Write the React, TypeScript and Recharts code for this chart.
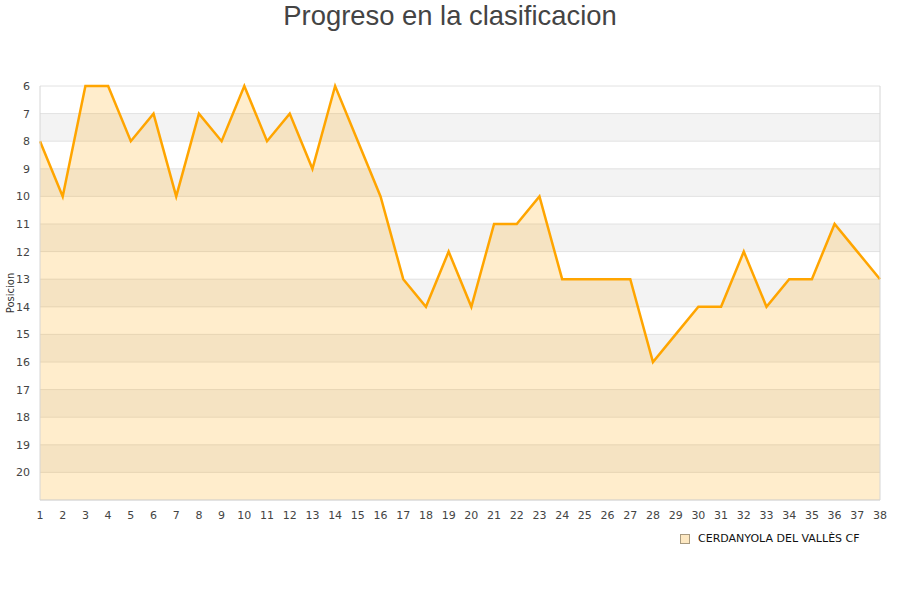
import React from 'react';
import { AreaChart, Area, XAxis, YAxis, CartesianGrid, ReferenceLine } from 'recharts';

const jornadas: number[] = [1,2,3,4,5,6,7,8,9,10,11,12,13,14,15,16,17,18,19,20,21,22,23,24,25,26,27,28,29,30,31,32,33,34,35,36,37,38];
const posiciones: number[] = [8,10,6,6,8,7,10,7,8,6,8,7,9,6,8,10,13,14,12,14,11,11,10,13,13,13,13,16,15,14,14,12,14,13,13,11,12,13];
const yTicks: number[] = [6,7,8,9,10,11,12,13,14,15,16,17,18,19,20];
const yDomain: [number, number] = [6, 21];
const teamName = 'CERDANYOLA DEL VALLÈS CF';
const titleText = 'Progreso en la clasificacion';
const yLabel = 'Posicion';

const data = jornadas.map((j, i) => ({ jornada: j, pos: posiciones[i] }));

export default function App() {
  return (
    <div style={{ position: 'absolute', left: 0, top: 0, width: 900, height: 600, background: '#fff' }}>
      <div
        style={{
          position: 'absolute',
          left: 0,
          top: 0,
          width: 900,
          textAlign: 'center',
          fontFamily: '"Liberation Sans", Arial, sans-serif',
          fontSize: 27.4,
          lineHeight: '31px',
          color: '#444',
        }}
      >
        {titleText}
      </div>
      <AreaChart width={900} height={600} data={data} margin={{ top: 86, right: 20, bottom: 70, left: 0 }}>
        <CartesianGrid
          vertical={false}
          stroke="#e2e2e2"
          horizontalFill={['#ffffff', '#f3f3f3']}
          fillOpacity={1}
        />
        <XAxis
          dataKey="jornada"
          type="number"
          domain={[1, 38]}
          ticks={jornadas}
          interval={0}
          height={30}
          tickLine={false}
          tickMargin={5}
          axisLine={{ stroke: '#d6d6d6' }}
          tick={{ fontSize: 11, fill: '#444', fontFamily: '"DejaVu Sans", sans-serif' }}
        />
        <YAxis
          type="number"
          reversed
          domain={yDomain}
          ticks={yTicks}
          interval={0}
          width={40}
          tickLine={false}
          tickMargin={4}
          axisLine={{ stroke: '#d6d6d6' }}
          tick={{ fontSize: 11, fill: '#444', fontFamily: '"DejaVu Sans", sans-serif' }}
          label={{
            value: yLabel,
            angle: -90,
            position: 'insideLeft',
            offset: 0,
            dx: 10,
            style: { fontSize: 10, fill: '#333', fontFamily: '"DejaVu Sans", sans-serif', textAnchor: 'middle' },
          }}
        />
        <ReferenceLine x={38} stroke="#d6d6d6" />
        <Area
          type="linear"
          dataKey="pos"
          baseValue={yDomain[1]}
          stroke="#FFA500"
          strokeWidth={2.5}
          fill="#FFA500"
          fillOpacity={0.2}
          dot={false}
          activeDot={false}
          isAnimationActive={false}
        />
      </AreaChart>
      <div
        style={{
          position: 'absolute',
          left: 680,
          top: 532,
          display: 'flex',
          alignItems: 'center',
          fontFamily: '"DejaVu Sans", sans-serif',
          fontSize: 11,
          color: '#111',
        }}
      >
        <span
          style={{
            display: 'inline-block',
            width: 8,
            height: 8,
            background: '#fde8c2',
            border: '1px solid #a89a80',
            marginRight: 8,
          }}
        />
        <span>{teamName}</span>
      </div>
    </div>
  );
}
